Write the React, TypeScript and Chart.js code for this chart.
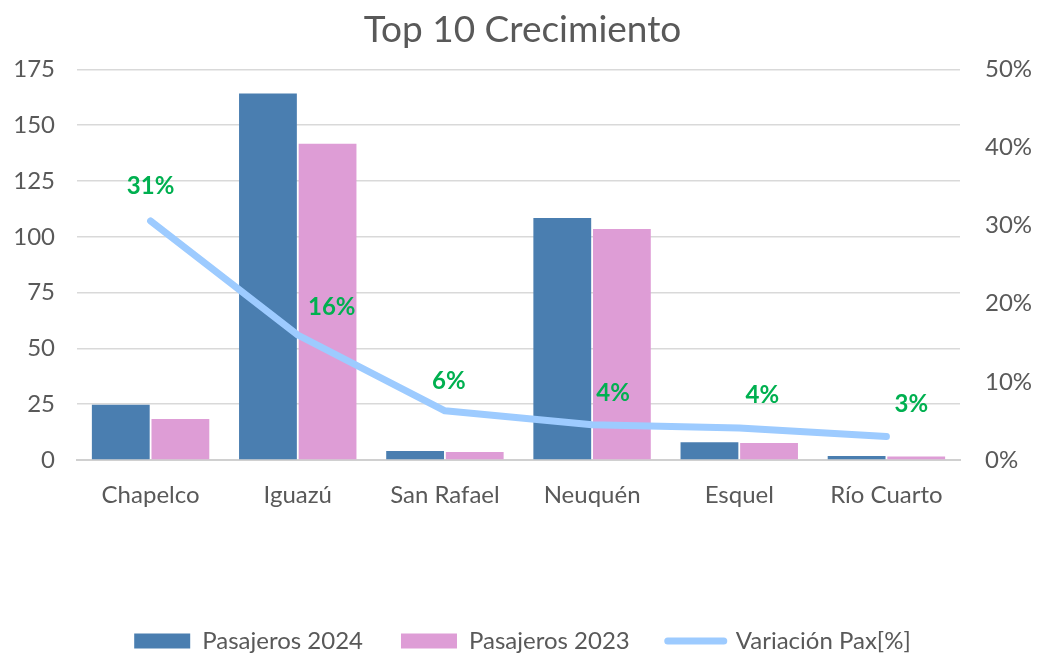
import React, { useEffect, useRef } from "react";
import { Chart, registerables } from "chart.js";

Chart.register(...registerables);

const categories = ["Chapelco", "Iguazú", "San Rafael", "Neuquén", "Esquel", "Río Cuarto"];
const pax2024 = [24.7, 164.2, 4.0, 108.4, 7.9, 1.8];
const pax2023 = [18.4, 141.7, 3.6, 103.5, 7.6, 1.6];
const variacion = [30.6, 16.0, 6.3, 4.5, 4.1, 3.0];
const variacionLabels = ["31%", "16%", "6%", "4%", "4%", "3%"];
const leftTicks = [0, 25, 50, 75, 100, 125, 150, 175];
const rightTicks = [0, 10, 20, 30, 40, 50];

// label offsets (style only)
const labelDx = [0, 34, 4, 21, 23, 25];
const labelDy = [-35, -28, -30, -32, -33, -32];

const FONT = "Lato, 'Open Sans', sans-serif";
const GRAY = "#595959";

const lineLabelPlugin = {
  id: "lineLabels",
  afterDatasetsDraw(chart: any) {
    const meta = chart.getDatasetMeta(2);
    const ctx = chart.ctx;
    ctx.save();
    ctx.font = `bold 24px ${FONT}`;
    ctx.fillStyle = "#00B050";
    ctx.textAlign = "center";
    ctx.textBaseline = "middle";
    meta.data.forEach((pt: any, i: number) => {
      ctx.fillText(variacionLabels[i], pt.x + labelDx[i], pt.y + labelDy[i]);
    });
    ctx.restore();
  },
};

export default function App() {
  const ref = useRef<HTMLCanvasElement | null>(null);
  useEffect(() => {
    document.body.style.margin = "0";
    const canvas = ref.current!;
    const chart = new Chart(canvas, {
      type: "bar",
      data: {
        labels: categories,
        datasets: [
          {
            type: "bar",
            label: "Pasajeros 2024",
            data: pax2024,
            backgroundColor: "#4A7EB0",
            yAxisID: "y",
            order: 1,
            categoryPercentage: 0.81,
            barPercentage: 0.97,
          },
          {
            type: "bar",
            label: "Pasajeros 2023",
            data: pax2023,
            backgroundColor: "#DE9DD6",
            yAxisID: "y",
            order: 1,
            categoryPercentage: 0.81,
            barPercentage: 0.97,
          },
          {
            type: "line",
            label: "Variación Pax[%]",
            data: variacion,
            borderColor: "#9DCBFF",
            backgroundColor: "#9DCBFF",
            borderWidth: 7,
            borderCapStyle: "round",
            borderJoinStyle: "round",
            pointRadius: 0,
            yAxisID: "y1",
            order: 0,
            tension: 0,
          } as any,
        ],
      },
      options: {
        animation: false,
        responsive: false,
        maintainAspectRatio: false,
        layout: { padding: { top: 0, bottom: 4, left: 0, right: 0 } },
        plugins: {
          title: {
            display: true,
            text: "Top 10 Crecimiento",
            color: GRAY,
            font: { family: FONT, size: 37, weight: "normal" },
            padding: { top: 8, bottom: 17 },
          },
          tooltip: { enabled: false },
          legend: {
            position: "bottom",
            labels: {
              color: GRAY,
              font: { family: FONT, size: 24 },
              usePointStyle: true,
              pointStyleWidth: 56,
              boxWidth: 56,
              boxHeight: 15,
              padding: 38,
              sort: (a: any, b: any) => a.datasetIndex - b.datasetIndex,
              generateLabels: (chart: any) => {
                const items = (Chart.defaults.plugins.legend.labels as any).generateLabels(chart);
                return items.map((it: any) => {
                  if (it.datasetIndex === 2) {
                    return { ...it, pointStyle: "line", lineWidth: 7, lineCap: "round", strokeStyle: "#9DCBFF" };
                  }
                  return { ...it, pointStyle: "rect", lineWidth: 0 };
                });
              },
            },
          },
        },
        scales: {
          x: {
            grid: { display: false, drawTicks: false },
            border: { display: true, color: "#D0D0D0", width: 2 },
            ticks: { color: GRAY, font: { family: FONT, size: 24 }, padding: 21 },
            afterFit: (s: any) => {
              s.height = 131;
            },
          },
          y: {
            position: "left",
            min: 0,
            max: 175,
            afterBuildTicks: (s: any) => {
              s.ticks = leftTicks.map((v) => ({ value: v }));
            },
            grid: { color: "#D9D9D9", lineWidth: 1.5, drawTicks: false },
            border: { display: false },
            ticks: { color: GRAY, font: { family: FONT, size: 24 }, padding: 22 },
            afterFit: (s: any) => {
              s.width = 77;
            },
          },
          y1: {
            position: "right",
            min: 0,
            max: 50,
            afterBuildTicks: (s: any) => {
              s.ticks = rightTicks.map((v) => ({ value: v }));
            },
            grid: { display: false, drawTicks: false },
            border: { display: false },
            ticks: {
              color: GRAY,
              font: { family: FONT, size: 24 },
              padding: 25,
              callback: (v: any) => v + "%",
            },
            afterFit: (s: any) => {
              s.width = 85;
            },
          },
        },
      },
      plugins: [lineLabelPlugin],
    } as any);
    return () => chart.destroy();
  }, []);
  return <canvas ref={ref} width={1045} height={667} style={{ display: "block" }} />;
}
